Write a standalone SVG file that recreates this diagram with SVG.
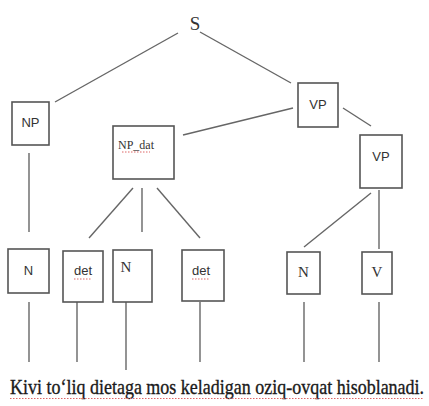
<svg xmlns="http://www.w3.org/2000/svg" width="429" height="406" viewBox="0 0 429 406">
<style>
.box{fill:#fff;stroke:#555;stroke-width:1.6}
.ln{stroke:#666;stroke-width:1.4;fill:none}
.sans{font-family:"Liberation Sans",Arial,sans-serif;font-size:13px;fill:#333;text-anchor:middle}
.serif{font-family:"Liberation Serif","Times New Roman",serif;font-size:15px;fill:#333;text-anchor:middle}
.sq{stroke:#d66;stroke-width:1;stroke-dasharray:1.5 1.5;fill:none}
</style>
<rect width="429" height="406" fill="#fff"/>
<g id="connectors">
<line class="ln" x1="178" y1="33" x2="55" y2="102"/>
<line class="ln" x1="200" y1="32" x2="291" y2="83"/>
<line class="ln" x1="293" y1="108" x2="183" y2="135"/>
<line class="ln" x1="343" y1="108" x2="371" y2="126"/>
<line class="ln" x1="29" y1="153" x2="29" y2="232"/>
<line class="ln" x1="133" y1="188" x2="89" y2="238"/>
<line class="ln" x1="142" y1="188" x2="142" y2="232"/>
<line class="ln" x1="157" y1="188" x2="200" y2="238"/>
<line class="ln" x1="371" y1="193" x2="304" y2="247"/>
<line class="ln" x1="379" y1="190" x2="379" y2="249"/>
<line class="ln" x1="29" y1="302" x2="29" y2="362"/>
<line class="ln" x1="77" y1="302" x2="77" y2="362"/>
<line class="ln" x1="126" y1="302" x2="126" y2="370"/>
<line class="ln" x1="200" y1="302" x2="200" y2="362"/>
<line class="ln" x1="304" y1="302" x2="304" y2="362"/>
<line class="ln" x1="379" y1="302" x2="379" y2="362"/>
</g>
<g id="S"><text class="serif" x="195" y="30" style="font-size:19px">S</text></g>
<g id="NP"><rect class="box" x="12" y="102" width="37" height="43"/><text class="sans" x="30.5" y="127">NP</text></g>
<g id="VP"><rect class="box" x="298" y="83" width="40" height="44"/><text class="sans" x="318" y="109">VP</text></g>
<g id="NP_dat"><rect class="box" x="113" y="126" width="61" height="53"/><text class="serif" x="136" y="149" style="font-size:12px">NP_dat</text><path class="sq" d="M122 152 H150"/></g>
<g id="VP2"><rect class="box" x="360" y="135" width="42" height="53"/><text class="sans" x="381" y="161">VP</text></g>
<g id="N1"><rect class="box" x="8" y="249" width="41" height="44"/><text class="sans" x="28.5" y="275">N</text></g>
<g id="det1"><rect class="box" x="63" y="251" width="40" height="51"/><text class="sans" x="83" y="275">det</text><path class="sq" d="M74 279 H92"/></g>
<g id="N2"><rect class="box" x="113" y="250" width="39" height="52"/><text class="serif" x="126" y="272">N</text></g>
<g id="det2"><rect class="box" x="182" y="250" width="42" height="51"/><text class="sans" x="201" y="275">det</text><path class="sq" d="M192 279 H210"/></g>
<g id="N3"><rect class="box" x="287" y="252" width="33" height="42"/><text class="serif" x="303.5" y="277">N</text></g>
<g id="V"><rect class="box" x="362" y="252" width="30" height="42"/><text class="serif" x="377" y="277">V</text></g>
<g id="sentence">
<text transform="translate(10,394) scale(1,1.22)" x="0" y="0" style="font-family:'Liberation Serif','Times New Roman',serif;font-size:18px;fill:#1a1a1a;stroke:#1a1a1a;stroke-width:0.3">Kivi to‘liq dietaga mos keladigan oziq-ovqat hisoblanadi.</text>
<path class="sq" d="M10 398.5 H424"/>
</g>
</svg>
